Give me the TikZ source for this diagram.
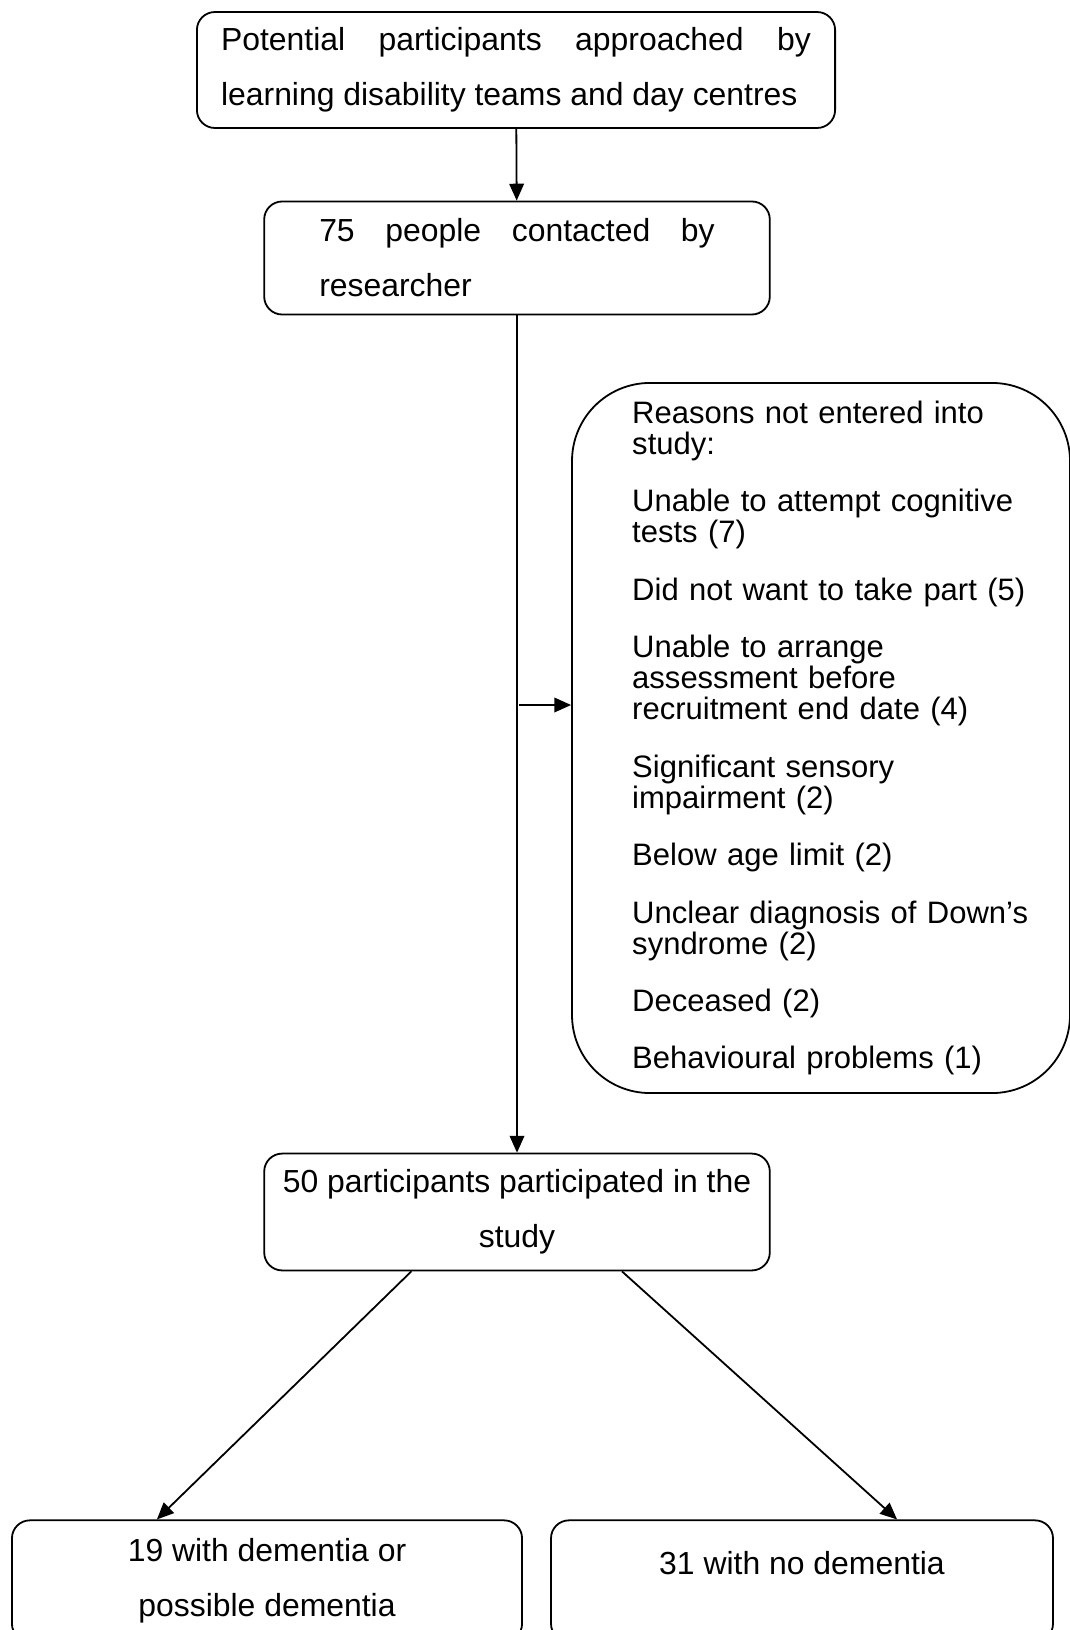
\documentclass[tikz,border=0pt]{standalone}
\usepackage{fontspec}
\setmainfont{Liberation Sans}
\usetikzlibrary{arrows.meta}
\tikzset{every node/.style={
        font=\fontsize{14.2pt}{24.5pt}\selectfont},
    box/.style={
        draw,
        line width=0.8pt,
        rounded corners=8pt,
        inner sep=0pt},
    reasonbox/.style={
        box,
        rounded corners=34.7pt,
        font=\fontsize{13.8pt}{13.9pt}\selectfont},
    every edge/.style={
        draw,
        -{Triangle[length=7.5pt,width=6.5pt]},
        line width=0.8pt}}

\begin{document}
\begin{tikzpicture}[x=0.445pt,y=-0.445pt]
        \useasboundingbox (0,0) rectangle (1069,1630);
        \node[box,minimum width=284pt,minimum height=51.6pt,text width=262.5pt,align=justify] (approach) at (516,70)
            {Potential participants approached by\linebreak learning disability teams and day centres};
        \node[box,minimum width=225pt,minimum height=50.3pt,text width=176pt,align=justify] (contact) at (517,258)
            {75 people contacted by\linebreak researcher};
        \node[reasonbox,minimum width=221.6pt,minimum height=316pt,text width=168pt,align=left] (reasons) at (821,738)
            {\mbox{Reasons not entered into}\\\mbox{study:}\\[11.6pt]
             \mbox{Unable to attempt cognitive}\\\mbox{tests (7)}\\[11.6pt]
             \mbox{Did not want to take part (5)}\\[11.6pt]
             \mbox{Unable to arrange}\\\mbox{assessment before}\\\mbox{recruitment end date (4)}\\[11.6pt]
             \mbox{Significant sensory}\\\mbox{impairment (2)}\\[11.6pt]
             \mbox{Below age limit (2)}\\[11.6pt]
             \mbox{Unclear diagnosis of Down’s}\\\mbox{syndrome (2)}\\[11.6pt]
             \mbox{Deceased (2)}\\[11.6pt]
             \mbox{Behavioural problems (1)}};
        \node[box,minimum width=225pt,minimum height=52pt,align=center] (study) at (517,1212)
            {50 participants participated in the\\study};
        \node[box,minimum width=227pt,minimum height=54pt,align=center] (dem) at (267,1581)
            {19 with dementia or\\possible dementia};
        \node[box,minimum width=223.4pt,minimum height=54pt,align=center] (nodem) at (802,1581)
            {31 with no dementia\\[-8pt]\mbox{}};
        \coordinate (split) at (519,705);

        \draw (approach) edge (contact);
        \draw (contact) edge (study);
        \draw (split) edge (reasons.west |- split);
        \draw ([xshift=-47pt]study.south) edge ([xshift=-49pt]dem.north);
        \draw ([xshift=46.7pt]study.south) edge ([xshift=42.3pt]nodem.north);
    \end{tikzpicture}
\end{document}
